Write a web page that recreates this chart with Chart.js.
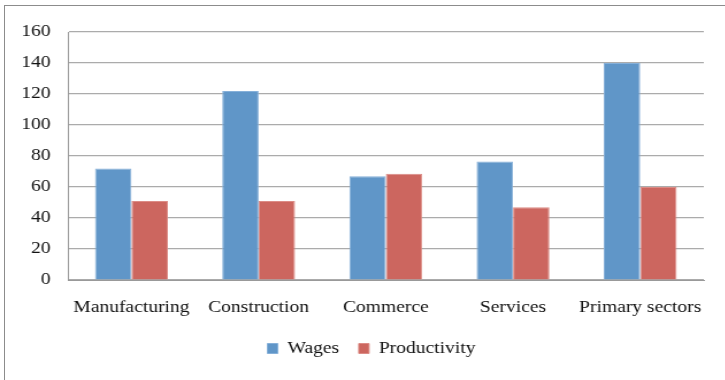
<!DOCTYPE html>
<html>
<head>
<meta charset="utf-8">
<script src="https://cdn.jsdelivr.net/npm/chart.js@4/dist/chart.umd.min.js"></script>
<style>
  html, body { margin: 0; padding: 0; background: #fff; overflow: hidden; }
  .frame {
    position: absolute; left: 4px; top: 5px; width: 760px; height: 420px;
    border-left: 1px solid #8c8c8c; border-top: 1px solid #8c8c8c;
  }
  /* the drawing is made on a narrower canvas and widened, like the original sheet */
  .wrap { position: absolute; left: 0; top: 0; transform: scaleX(1.15); transform-origin: 0 0; }
</style>
</head>
<body>
<div class="frame"></div>
<div class="wrap"><canvas id="chart" width="630" height="380"></canvas></div>
<script>
const sectors = ['Manufacturing', 'Construction', 'Commerce', 'Services', 'Primary sectors'];
const wages = [72, 122, 67, 76.5, 140];
const productivity = [51, 51, 68.5, 47, 60];
const yTicks = [0, 20, 40, 60, 80, 100, 120, 140, 160];

const serif = { family: '"Liberation Serif", "Times New Roman", serif', size: 17 };
const ink = '#111';

// nudge the legend to sit under the middle of the plot rather than the canvas
const legendShift = {
  id: 'legendShift',
  afterLayout(chart) {
    const lg = chart.legend;
    if (!lg) return;
    const dx = 17;
    lg.left += dx; lg.right += dx;
    lg.legendHitBoxes.forEach(b => { b.left += dx; });
  }
};

new Chart(document.getElementById('chart'), {
  type: 'bar',
  data: {
    labels: sectors,
    datasets: [
      { label: 'Wages', data: wages, backgroundColor: '#6096c8', borderColor: '#86b0d9', borderWidth: 1 },
      { label: 'Productivity', data: productivity, backgroundColor: '#cc665f', borderColor: '#dc8c86', borderWidth: 1 }
    ]
  },
  options: {
    responsive: false,
    animation: false,
    datasets: { bar: { barPercentage: 1, categoryPercentage: 0.573 } },
    layout: { padding: { left: 0, top: 32, right: 18, bottom: 13 } },
    plugins: {
      tooltip: { enabled: false },
      legend: {
        position: 'bottom',
        labels: { font: serif, color: ink, boxWidth: 9, boxHeight: 10, padding: 17 }
      }
    },
    scales: {
      x: {
        grid: { display: false },
        border: { display: true, color: '#999', width: 1 },
        ticks: { font: serif, color: ink, padding: 9, maxRotation: 0 },
        afterFit: s => { s.height = 43; }
      },
      y: {
        min: 0, max: 160,
        afterBuildTicks: s => { s.ticks = yTicks.map(v => ({ value: v })); },
        grid: { color: '#ababab', lineWidth: 1.2, drawTicks: false },
        border: { display: true, color: '#999', width: 1 },
        ticks: { font: serif, color: ink, padding: 15 },
        afterFit: s => { s.width = 59; }
      }
    }
  },
  plugins: [legendShift]
});
</script>
</body>
</html>
